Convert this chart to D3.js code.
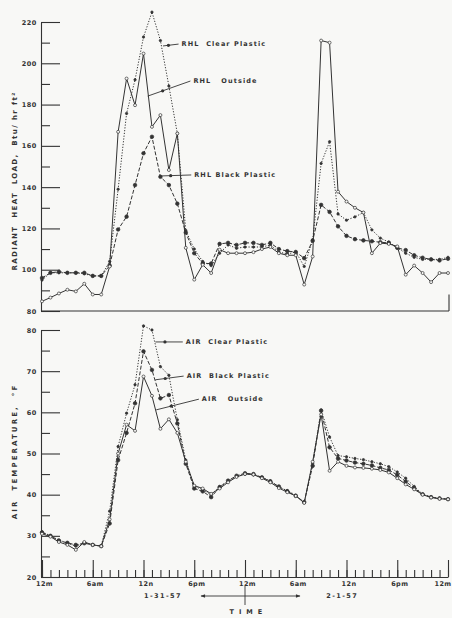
<!DOCTYPE html>
<html>
<head>
<meta charset="utf-8">
<script src="https://cdn.jsdelivr.net/npm/d3@7/dist/d3.min.js"></script>
<style>
  body { margin: 0; background: #f8f8f6; }
  svg { display: block; }
  text { font-family: "DejaVu Sans", sans-serif; font-weight: bold; fill: #333; }
</style>
</head>
<body>
<div id="chart"></div>
<script>
// hours from 12 midnight 1-31-57
const hours = [0, 1, 2, 3, 4, 5, 6, 7, 8, 9, 10, 11, 12, 13, 14, 15, 16, 17, 18, 19, 20, 21, 22, 23, 24,
    25, 26, 27, 28, 29, 30, 31, 32, 33, 34, 35, 36, 37, 38, 39, 40, 41, 42, 43, 44, 45, 46, 47, 48];

const xTickHours = [0, 6, 12, 18, 24, 30, 36, 42, 48];
const xTickLabels = ["12m", "6am", "12n", "6pm", "12m", "6am", "12n", "6pm", "12m"];

const rhlTicks = [80, 100, 120, 140, 160, 180, 200, 220];
const airTicks = [20, 30, 40, 50, 60, 70, 80];

// radiant heat load, Btu/hr ft2
const rhlOutside = [84.7, 86.5, 88.5, 90.3, 89.5, 93.2, 88, 88, 101.6, 166.8, 192.6, 179.7, 204.7, 169.2, 174.9, 148.3, 166,
    110.6, 95.2, 102.4, 98.4, 109.7, 108, 108, 108, 108.5, 110, 111, 108, 107, 107, 92.8, 106.4, 211, 210,
    137.8, 133, 130, 127.7, 108, 112.9, 112.5, 111.3, 97.6, 102, 98.4, 94, 98.4, 98.4];
const rhlClear = [95, 98.5, 98.5, 98.5, 98.5, 98, 97, 97, 104, 139, 175.7, 192, 212.7, 224.8, 211, 189, 166,
    119, 110, 104, 102, 108, 112, 110.4, 111, 111, 111, 112, 108.6, 107.6, 108.6, 101.6, 114.5, 151.5, 162,
    127, 124, 125.6, 127.7, 119.3, 115.3, 113.4, 110.6, 108, 106, 105, 105, 105, 106];
const rhlBlack = [96, 98.5, 99, 98.5, 98.5, 98.5, 97, 97, 102, 119.5, 125.7, 141, 156.4, 164.4, 145, 141, 132,
    118, 108, 103, 103, 112.5, 113, 112, 113, 113, 112, 113, 110, 109, 108.6, 105.6, 114, 131.4, 128,
    121, 116.4, 114.8, 114.2, 113.8, 113.3, 113, 110.6, 109.5, 107, 105.8, 105, 104.5, 105.3];

// air temperature, F
const airClear = [31, 30, 29, 28.2, 27.5, 28.3, 27.8, 27.5, 36, 51.7, 59.8, 66.7, 81, 80, 71.1, 69, 58.2,
    48.4, 42, 41.2, 40, 42, 43.2, 44.4, 45, 44.8, 44.2, 43.4, 41.8, 41, 39.9, 38, 47.6, 60.6, 54,
    49.5, 49.2, 48.8, 48.5, 48, 47.5, 46.8, 45.5, 44, 42, 40.1, 39.4, 39.1, 38.9];
const airBlack = [30.8, 30, 28.8, 28.3, 27.8, 28.2, 27.8, 27.5, 33, 48.4, 55, 62.2, 74.8, 70.3, 63.4, 64.2, 57.3,
    47.5, 41.5, 40.8, 39.4, 41.8, 43.4, 44.6, 45.2, 45, 44.2, 43.2, 42, 40.8, 39.7, 38.2, 47, 60.4, 51.5,
    48.8, 48.3, 47.8, 47.5, 47.1, 46.5, 46, 44.8, 43.2, 41.6, 40.1, 39.4, 39.1, 38.9];
const airOutside = [30.5, 29.8, 28.5, 27.8, 26.6, 28.5, 27.8, 27.5, 34, 50, 57, 55.5, 68.7, 64, 56, 58.3, 55,
    48, 42.2, 41.5, 40.2, 41.5, 43, 44.3, 45, 44.9, 44, 43, 41.6, 40.6, 39.7, 38, 48, 59.5, 45.8,
    48, 47, 46.6, 46.5, 46.3, 46, 45.4, 44, 42.5, 41.3, 40, 39.3, 39, 38.9];

const width = 452, height = 618;
const ink = "#333";
const paper = "#f8f8f6";

const svg = d3.select("#chart").append("svg")
    .attr("width", width)
    .attr("height", height);

const x = d3.scaleLinear().domain([0, 48]).range([42, 448]);
const yTop = d3.scaleLinear().domain([80, 220]).range([311, 22]);
const yBot = d3.scaleLinear().domain([20, 80]).range([577, 330]);

const styles = {
    outside: { dash: null, r: 1.5, fill: paper },
    clear: { dash: "1.2,1.6", r: 1.2, fill: ink },
    black: { dash: "4,1.8", r: 1.8, fill: ink }
};

function yAxis(scale, ticks) {
    const minor = ticks.slice(1).map((t, i) => (t + ticks[i]) / 2);
    const g = svg.append("g").attr("transform", `translate(${x(0) - 1},0)`);

    g.append("g")
        .call(d3.axisLeft(scale).tickValues(minor).tickSize(-9).tickFormat(""))
        .call(s => s.select(".domain").remove());

    g.append("g")
        .call(d3.axisLeft(scale).tickValues(ticks).tickSize(-19).tickSizeOuter(0).tickPadding(4))
        .call(s => s.selectAll("text").attr("font-size", 6.5).attr("font-family", "DejaVu Sans")
            .attr("font-weight", "bold").attr("fill", ink).attr("letter-spacing", 0.6));

    g.selectAll("line, path").attr("stroke", ink).attr("stroke-width", 1.1);
}

function series(scale, values, st) {
    const pts = hours.map((h, i) => [h, values[i]]);
    const line = d3.line().x(d => x(d[0])).y(d => scale(d[1]));
    svg.append("path")
        .attr("d", line(pts))
        .attr("fill", "none")
        .attr("stroke", ink)
        .attr("stroke-width", 1)
        .attr("stroke-dasharray", st.dash);
    svg.append("g").selectAll("circle")
        .data(pts)
        .join("circle")
        .attr("cx", d => x(d[0]))
        .attr("cy", d => scale(d[1]))
        .attr("r", st.r)
        .attr("fill", st.fill)
        .attr("stroke", ink)
        .attr("stroke-width", 0.7);
}

function note(scale, tip, textAt, label) {
    const x1 = x(tip[0]), y1 = scale(tip[1]);
    const x2 = x(textAt[0]) - 3, y2 = scale(textAt[1]);
    svg.append("line")
        .attr("x1", x1).attr("y1", y1).attr("x2", x2).attr("y2", y2)
        .attr("stroke", ink).attr("stroke-width", 0.9);
    svg.append("circle")
        .attr("cx", x1 + (x2 - x1) * 0.35).attr("cy", y1 + (y2 - y1) * 0.35)
        .attr("r", 1.6).attr("fill", ink);
    svg.append("text")
        .attr("x", x(textAt[0])).attr("y", scale(textAt[1]))
        .attr("dy", "0.35em")
        .attr("font-size", 6.5)
        .attr("letter-spacing", 1.1)
        .attr("xml:space", "preserve")
        .text(label);
}

// ---- top panel: radiant heat load
yAxis(yTop, rhlTicks);
svg.append("line")
    .attr("x1", x(0) - 1).attr("x2", x(48) + 1)
    .attr("y1", yTop(80)).attr("y2", yTop(80))
    .attr("stroke", ink).attr("stroke-width", 1.1);
svg.append("line")
    .attr("x1", x(48) + 1).attr("x2", x(48) + 1)
    .attr("y1", yTop(88)).attr("y2", yTop(80))
    .attr("stroke", ink).attr("stroke-width", 1.1);

series(yTop, rhlBlack, styles.black);
series(yTop, rhlClear, styles.clear);
series(yTop, rhlOutside, styles.outside);

note(yTop, [14.3, 208.4], [16.5, 209.3], "RHL  Clear Plastic");
note(yTop, [12.5, 184.1], [17.9, 191.4], "RHL   Outside");
note(yTop, [13.9, 145.4], [18, 145.9], "RHL Black Plastic");

svg.append("text")
    .attr("transform", `translate(15,${yTop(143)}) rotate(-90)`)
    .attr("text-anchor", "middle")
    .attr("dy", "0.35em")
    .attr("font-size", 7)
    .attr("letter-spacing", 1.4)
    .attr("xml:space", "preserve")
    .text("RADIANT  HEAT  LOAD,  Btu/ hr ft²");

// ---- bottom panel: air temperature
yAxis(yBot, airTicks);

const xg = svg.append("g").attr("transform", `translate(0,${yBot(20)})`);
xg.append("g")
    .call(d3.axisBottom(x).tickValues(hours).tickSize(-7).tickSizeOuter(0).tickFormat(""));
xg.append("g")
    .call(d3.axisBottom(x).tickValues(xTickHours).tickSize(-17).tickSizeOuter(0).tickPadding(4)
        .tickFormat((d, i) => xTickLabels[i]))
    .call(s => s.select(".domain").remove())
    .call(s => s.selectAll("text").attr("dx", 2).attr("font-size", 6.5).attr("font-family", "DejaVu Sans")
        .attr("font-weight", "bold").attr("fill", ink).attr("letter-spacing", 0.4))
    .call(s => s.selectAll("text").filter(d => d === 48).attr("text-anchor", "end").attr("dx", 3));
xg.selectAll("line, path").attr("stroke", ink).attr("stroke-width", 1.1);

series(yBot, airBlack, styles.black);
series(yBot, airClear, styles.clear);
series(yBot, airOutside, styles.outside);

note(yBot, [13.4, 77.1], [17, 77.1], "AIR  Clear Plastic");
note(yBot, [13.4, 67.9], [17.1, 68.8], "AIR  Black Plastic");
note(yBot, [13.5, 60.6], [18.9, 63.2], "AIR   Outside");

svg.append("text")
    .attr("transform", `translate(15,${yBot(50.5)}) rotate(-90)`)
    .attr("text-anchor", "middle")
    .attr("dy", "0.35em")
    .attr("font-size", 7)
    .attr("letter-spacing", 2.1)
    .attr("xml:space", "preserve")
    .text("AIR  TEMPERATURE,  °F");

// ---- dates and time arrow
const arrowY = 596;
svg.append("defs").append("marker")
    .attr("id", "head")
    .attr("viewBox", "0 0 10 10")
    .attr("refX", 9).attr("refY", 5)
    .attr("markerWidth", 6).attr("markerHeight", 5)
    .attr("orient", "auto-start-reverse")
    .append("path").attr("d", "M0,1L10,5L0,9Z").attr("fill", ink);

svg.append("line")
    .attr("x1", x(18.8)).attr("x2", x(30.5))
    .attr("y1", arrowY).attr("y2", arrowY)
    .attr("stroke", ink).attr("stroke-width", 0.9)
    .attr("marker-start", "url(#head)")
    .attr("marker-end", "url(#head)");
svg.append("line")
    .attr("x1", x(24)).attr("x2", x(24))
    .attr("y1", arrowY - 10).attr("y2", arrowY + 9)
    .attr("stroke", ink).attr("stroke-width", 0.9);

svg.append("text")
    .attr("x", x(14.3)).attr("y", arrowY).attr("dy", "0.35em")
    .attr("text-anchor", "middle").attr("font-size", 6.5).attr("letter-spacing", 1.4)
    .text("1-31-57");
svg.append("text")
    .attr("x", x(35.5)).attr("y", arrowY).attr("dy", "0.35em")
    .attr("text-anchor", "middle").attr("font-size", 6.5).attr("letter-spacing", 1.4)
    .text("2-1-57");
svg.append("text")
    .attr("x", x(24.4)).attr("y", 612).attr("dy", "0.35em")
    .attr("text-anchor", "middle").attr("font-size", 6.5).attr("letter-spacing", 5)
    .text("TIME");
</script>
</body>
</html>
